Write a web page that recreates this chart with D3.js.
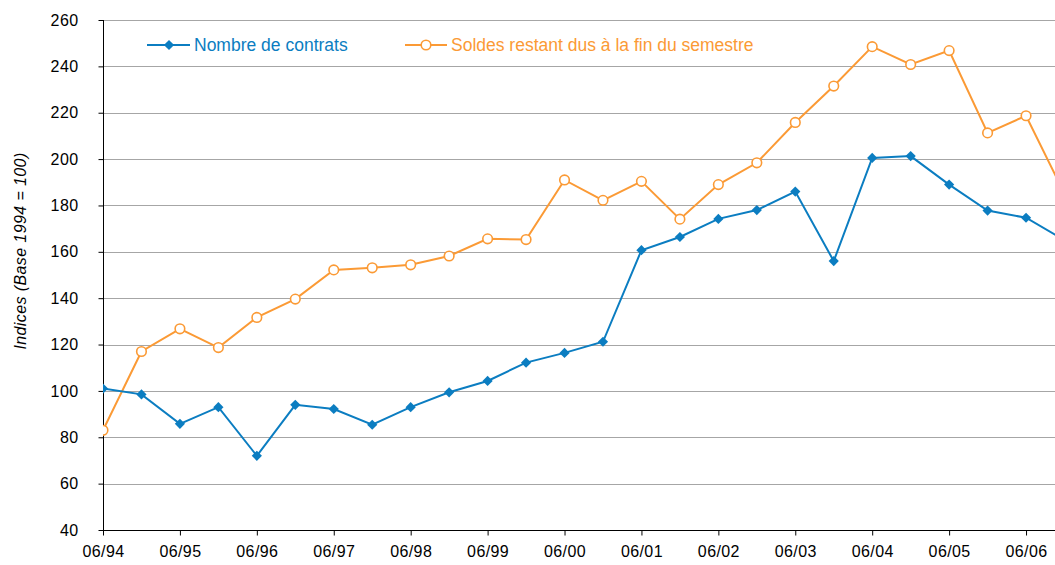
<!DOCTYPE html>
<html>
<head>
<meta charset="utf-8">
<script src="https://cdn.jsdelivr.net/npm/d3@7"></script>
<style>
  body { margin: 0; background: #fff; }
  svg { display: block; font-family: "Liberation Sans", Arial, sans-serif; }
</style>
</head>
<body>
<svg id="chart" width="1055" height="565"></svg>
<script>
const categories = ["06/94","12/94","06/95","12/95","06/96","12/96","06/97","12/97","06/98","12/98",
  "06/99","12/99","06/00","12/00","06/01","12/01","06/02","12/02","06/03","12/03",
  "06/04","12/04","06/05","12/05","06/06","12/06"];
const nombreContrats = [101, 98.5, 85.8, 93, 72, 94, 92.2, 85.4, 93, 99.4,
  104.3, 112.2, 116.4, 121.2, 160.7, 166.4, 174.2, 178, 186, 156,
  200.5, 201.3, 189, 177.8, 174.7, 165];
const soldesRestant = [83, 117, 126.8, 118.7, 131.7, 139.6, 152.2, 153.1, 154.4, 158.2,
  165.6, 165.3, 191, 182.2, 190.4, 174.1, 189, 198.4, 215.8, 231.5,
  248.5, 240.8, 246.8, 211.3, 218.7, 185];
const yTicks = [40,60,80,100,120,140,160,180,200,220,240,260];
const seriesNames = ["Nombre de contrats", "Soldes restant dus à la fin du semestre"];
const colors = ["#0b7dc1", "#fb9a35"];

(function () {
const W = 1055, H = 565;
const mLeft = 103, mTop = 20, mBottom = 530;
const step = 38.46;
const svg = d3.select("#chart");

const x = d3.scalePoint().domain(categories).range([mLeft, mLeft + step * (categories.length - 1)]);
const y = d3.scaleLinear().domain([40, 260]).range([mBottom, mTop]);

svg.append("defs").append("clipPath").attr("id", "clip")
  .append("rect").attr("x", mLeft).attr("y", 0).attr("width", W - mLeft).attr("height", H);

// grid
svg.append("g").selectAll("line").data(yTicks.filter(d => d > 40)).join("line")
  .attr("x1", mLeft).attr("x2", W)
  .attr("y1", d => Math.round(y(d)) + 0.5).attr("y2", d => Math.round(y(d)) + 0.5)
  .attr("stroke", "#a6a6a6").attr("stroke-width", 1);

// y axis
const yAxis = svg.append("g").attr("transform", `translate(${mLeft + 0.5},0)`)
  .call(d3.axisLeft(y).tickValues(yTicks).tickSize(5).tickPadding(20).tickFormat(d3.format("d")));
yAxis.select(".domain").attr("stroke", "#000").attr("d", `M0,${mTop}V${mBottom}`);
yAxis.selectAll(".tick line").attr("stroke", "#000");
yAxis.selectAll("text").attr("font-size", 16).attr("fill", "#000").attr("letter-spacing", 0.4)
  .attr("font-family", "Liberation Sans, Arial, sans-serif");

// x axis
const xAxis = svg.append("g").attr("transform", `translate(0,${mBottom + 0.5})`)
  .call(d3.axisBottom(x).tickValues(categories.filter(c => c.startsWith("06"))).tickSize(5).tickPadding(10));
xAxis.select(".domain").attr("stroke", "#000").attr("d", `M${mLeft},0H${W}`);
xAxis.selectAll(".tick line").attr("stroke", "#000");
xAxis.selectAll("text").attr("font-size", 16).attr("fill", "#000").attr("letter-spacing", 0.4)
  .attr("font-family", "Liberation Sans, Arial, sans-serif");

// y title
svg.append("text")
  .attr("transform", "translate(26,251) rotate(-90)")
  .attr("text-anchor", "middle")
  .attr("font-size", 16).attr("font-style", "italic").attr("fill", "#000")
  .attr("letter-spacing", 0.4)
  .text("Indices (Base 1994 = 100)");

const plot = svg.append("g").attr("clip-path", "url(#clip)");
const line = d3.line().x((d, i) => x(categories[i])).y(d => y(d));

// orange series
plot.append("path").datum(soldesRestant).attr("d", line)
  .attr("fill", "none").attr("stroke", colors[1]).attr("stroke-width", 2);
plot.append("g").selectAll("circle").data(soldesRestant).join("circle")
  .attr("cx", (d, i) => x(categories[i])).attr("cy", d => y(d)).attr("r", 4.8)
  .attr("fill", "#fff").attr("stroke", colors[1]).attr("stroke-width", 1.6);

// blue series
plot.append("path").datum(nombreContrats).attr("d", line)
  .attr("fill", "none").attr("stroke", colors[0]).attr("stroke-width", 2);
plot.append("g").selectAll("path").data(nombreContrats).join("path")
  .attr("d", d3.symbol().type(d3.symbolSquare).size(52))
  .attr("transform", (d, i) => `translate(${x(categories[i])},${y(d)}) rotate(45)`)
  .attr("fill", colors[0]);

// legend
const lg = svg.append("g");
lg.append("line").attr("x1", 147).attr("x2", 190).attr("y1", 45).attr("y2", 45)
  .attr("stroke", colors[0]).attr("stroke-width", 2);
lg.append("path").attr("d", d3.symbol().type(d3.symbolSquare).size(52))
  .attr("transform", "translate(169,45) rotate(45)").attr("fill", colors[0]);
lg.append("text").attr("x", 194).attr("y", 51).attr("font-size", 17.5).attr("fill", colors[0])
  .text(seriesNames[0]);
lg.append("line").attr("x1", 405).attr("x2", 447).attr("y1", 45).attr("y2", 45)
  .attr("stroke", colors[1]).attr("stroke-width", 2);
lg.append("circle").attr("cx", 426).attr("cy", 45).attr("r", 4.8)
  .attr("fill", "#fff").attr("stroke", colors[1]).attr("stroke-width", 1.6);
lg.append("text").attr("x", 451).attr("y", 51).attr("font-size", 17.5).attr("fill", colors[1])
  .text(seriesNames[1]);
})();
</script>
</body>
</html>
